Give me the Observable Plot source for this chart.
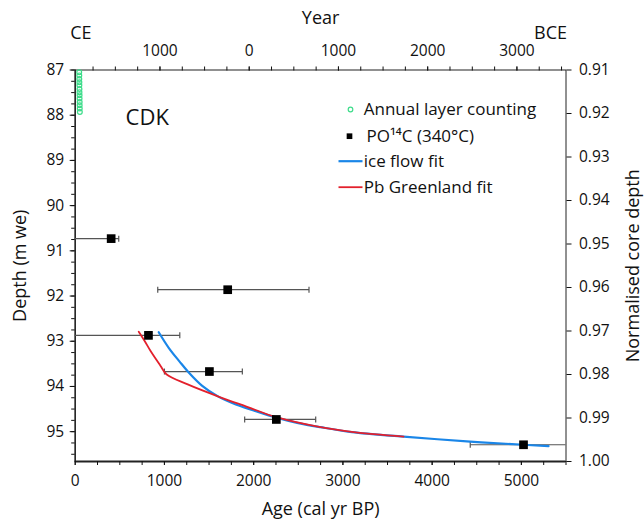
<!DOCTYPE html>
<html><head><meta charset="utf-8">
<script src="https://cdn.jsdelivr.net/npm/d3@7"></script>
<script src="https://cdn.jsdelivr.net/npm/@observablehq/plot@0.6"></script>
<style>html,body{margin:0;padding:0;background:#fff;overflow:hidden}</style>
</head><body><div id="chart"></div>
<script>
// Annual layer counting (age cal yr BP, depth m we)
const layerAge   = [45, 46, 46, 47, 47, 48, 48, 49, 49, 50, 50, 51, 52];
const layerDepth = [87.05, 87.12, 87.20, 87.27, 87.34, 87.42, 87.49, 87.56, 87.63, 87.71, 87.78, 87.85, 87.93];
// PO14C (340°C) dates with error range
const c14Age   = [403, 1709, 821, 1504, 2254, 5024];
const c14Depth = [90.73, 91.86, 92.87, 93.67, 94.73, 95.29];
const c14Lo    = [-300, 925, -300, 1000, 1899, 4427];
const c14Hi    = [488, 2620, 1172, 1873, 2695, 6000];
// ice flow fit
const iceAge   = [936, 1050, 1170, 1272, 1420, 1600, 1800, 2000, 2254, 2500, 2747, 3100, 3680, 4427, 5024, 5304];
const iceDepth = [92.80, 93.15, 93.45, 93.69, 93.98, 94.22, 94.40, 94.53, 94.69, 94.81, 94.90, 95.01, 95.11, 95.22, 95.29, 95.32];
// Pb Greenland fit
const pbAge   = [712, 780, 843, 955, 1022, 1254, 1627, 1926, 2254, 2747, 3120, 3680];
const pbDepth = [92.79, 93.00, 93.21, 93.54, 93.73, 93.95, 94.24, 94.45, 94.68, 94.90, 95.01, 95.11];
// ticks
const depthTicks = [87, 88, 89, 90, 91, 92, 93, 94, 95];
const normTicks  = [0.91, 0.92, 0.93, 0.94, 0.95, 0.96, 0.97, 0.98, 0.99, 1.00];
const ageTicks   = [0, 1000, 2000, 3000, 4000, 5000];
const yearLabels = [1000, 0, -1000, -2000, -3000];

const D0 = 87, D1 = 95.66;            // depth at normalised 0.91 and 1.00
const toDepth = n => D0 + (n - 0.91) / 0.09 * (D1 - D0);
const toNorm  = d => 0.91 + (d - D0) / (D1 - D0) * 0.09;

const layers = layerAge.map((a, i) => ({age: a, depth: layerDepth[i]}));
const c14 = c14Age.map((a, i) => ({age: a, depth: c14Depth[i], lo: c14Lo[i], hi: c14Hi[i]}));
const caps = c14.flatMap(d => [{age: d.lo, depth: d.depth}, {age: d.hi, depth: d.depth}])
  .filter(d => d.age > 0 && d.age < 5500);
const ice = iceAge.map((a, i) => ({age: a, depth: iceDepth[i]}));
const pb = pbAge.map((a, i) => ({age: a, depth: pbDepth[i]}));

const minorAge = d3.range(0, 5501, 250);
const minorDepth = d3.range(87, 95.6, 0.25);
const topBP = yearLabels.map(y => 1950 - y);
const topMinor = d3.range(200, 5500, 250);
const vbar = {draw(ctx, size) { const r = Math.sqrt(size / Math.PI); ctx.moveTo(0, -r); ctx.lineTo(0, r); }};
const hbar = {draw(ctx, size) { ctx.moveTo(-12, 0); ctx.lineTo(12, 0); }};

const F = "Open Sans";
const FS = 15.5;
const blue = "#1a86e8", red = "#e3202c", green = "#3ddc8a", gray = "#555";
const T = {fill: "#111", lineAnchor: "middle"};

const chart = Plot.plot({
  width: 644, height: 522,
  marginTop: 69.5, marginBottom: 61, marginLeft: 74.7, marginRight: 78.5,
  style: {fontFamily: F, fontSize: FS + "px", background: "#fff", color: "#111"},
  x: {domain: [0, 5500]},
  y: {domain: [D0, D1], reverse: true},
  marks: [
    Plot.frame({stroke: "#222", strokeWidth: 1}),
    Plot.ruleY([D1], {stroke: "#222", strokeWidth: 2}),
    Plot.ruleX([0], {stroke: "#222", strokeWidth: 1.4}),
    // left axis
    Plot.axisY({anchor: "left", ticks: depthTicks, tickSize: 5, tickPadding: 6, fontSize: FS, label: null}),
    Plot.axisY({anchor: "left", ticks: minorDepth, tickSize: 3.5, tickFormat: () => "", label: null}),
    // right axis
    Plot.axisY({anchor: "right", ticks: normTicks.map(toDepth), tickSize: 5, tickPadding: 8, fontSize: FS,
      tickFormat: d => toNorm(d).toFixed(2), label: null}),
    // bottom axis
    Plot.axisX({anchor: "bottom", ticks: ageTicks, tickSize: 4, tickPadding: 9, fontSize: FS,
      tickFormat: d => String(d), label: null}),
    Plot.axisX({anchor: "bottom", ticks: minorAge, tickSize: 4, tickFormat: () => "", label: null}),
    // top axis (Year)
    Plot.axisX({anchor: "top", ticks: topBP, tickSize: 4, tickPadding: 10, fontSize: FS,
      tickFormat: d => String(Math.abs(1950 - d)), label: null}),
    Plot.axisX({anchor: "top", ticks: topMinor, tickSize: 4, tickFormat: () => "", label: null}),
    // titles
    Plot.text(["Year"], {...T, frameAnchor: "top", dy: -52, textAnchor: "middle", fontSize: 18}),
    Plot.text(["CE"], {...T, frameAnchor: "top-left", dx: -5, dy: -36.5, textAnchor: "start", fontSize: 18}),
    Plot.text(["BCE"], {...T, frameAnchor: "top-right", dx: 1, dy: -36.5, textAnchor: "end", fontSize: 18}),
    Plot.text(["Age (cal yr BP)"], {...T, frameAnchor: "bottom", dy: 48, textAnchor: "middle", fontSize: 18}),
    Plot.text(["Depth (m we)"], {...T, frameAnchor: "left", dx: -55, rotate: -90, textAnchor: "middle", fontSize: 18}),
    Plot.text(["Normalised core depth"], {...T, frameAnchor: "right", dx: 67, rotate: -90, textAnchor: "middle", fontSize: 18}),
    Plot.text(["CDK"], {...T, frameAnchor: "top-left", dx: 72, dy: 47.5, textAnchor: "middle", fontSize: 22}),
    // data
    Plot.link(c14, {x1: "lo", x2: "hi", y1: "depth", y2: "depth", stroke: gray, strokeWidth: 1.2, clip: true}),
    Plot.dot(caps, {x: "age", y: "depth", symbol: vbar, r: 3, stroke: gray, strokeWidth: 1.2}),
    Plot.line(ice, {x: "age", y: "depth", stroke: blue, strokeWidth: 2.2, curve: "catmull-rom"}),
    Plot.line(pb, {x: "age", y: "depth", stroke: red, strokeWidth: 1.8, curve: "catmull-rom"}),
    Plot.dot(layers, {x: "age", y: "depth", r: 2.4, stroke: green, strokeWidth: 1.2, fill: "none"}),
    Plot.dot(c14, {x: "age", y: "depth", symbol: "square", r: 4.9, fill: "#000"}),
    // legend
    Plot.dot([0], {frameAnchor: "top-left", dx: 275.3, dy: 39.5, r: 2.3, stroke: green, strokeWidth: 1.2, fill: "none"}),
    Plot.text(["Annual layer counting"], {...T, frameAnchor: "top-left", dx: 288.5, dy: 39.5, textAnchor: "start", fontSize: 17}),
    Plot.dot([0], {frameAnchor: "top-left", dx: 274.3, dy: 66.2, symbol: "square", r: 3.2, fill: "#000"}),
    Plot.text(["PO¹⁴C (340°C)"], {...T, frameAnchor: "top-left", dx: 291.3, dy: 66.2, textAnchor: "start", fontSize: 17}),
    Plot.dot([0], {frameAnchor: "top-left", dx: 275.3, dy: 91.2, symbol: hbar, stroke: blue, strokeWidth: 2.2}),
    Plot.text(["ice flow fit"], {...T, frameAnchor: "top-left", dx: 288.5, dy: 91.2, textAnchor: "start", fontSize: 17}),
    Plot.dot([0], {frameAnchor: "top-left", dx: 275.3, dy: 117.2, symbol: hbar, stroke: red, strokeWidth: 1.8}),
    Plot.text(["Pb Greenland fit"], {...T, frameAnchor: "top-left", dx: 288.5, dy: 117.2, textAnchor: "start", fontSize: 17})
  ]
});
document.getElementById("chart").appendChild(chart);
</script>
</body></html>
